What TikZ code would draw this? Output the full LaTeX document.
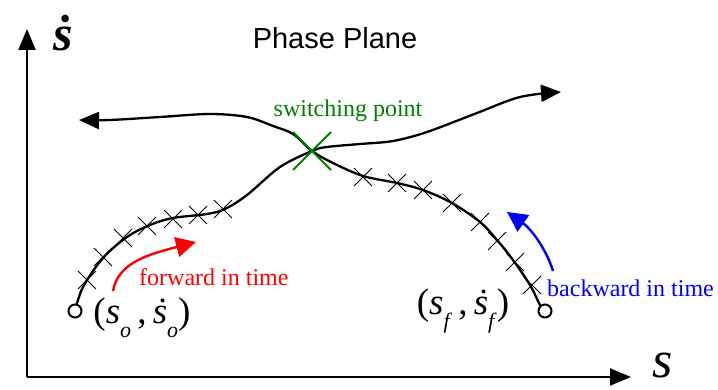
\documentclass[tikz,border=0pt]{standalone}
\usepackage{fontspec}
\setmainfont{Liberation Serif}
\newfontfamily\titlefont{Liberation Sans}
\usetikzlibrary{arrows.meta,shapes.misc}
\definecolor{swgreen}{RGB}{0,128,0}
\tikzset{
  axisline/.style={line width=2pt,-{Triangle[length=21pt,width=17pt]}},
  trajectory/.style={line width=2.3pt,-{Triangle[length=20pt,width=17pt]}},
  xmark/.style={cross out,draw,minimum size=17pt,inner sep=0pt,line width=0.9pt},
  endpoint/.style={circle,draw,fill=white,line width=2pt,minimum size=13pt,inner sep=0pt},
  timearrow/.style={line width=2.4pt,-{Triangle[length=20pt,width=20pt]}},
  lbl/.style={inner sep=0pt,font=\fontsize{24}{24}\selectfont},
  mathlbl/.style={inner sep=0pt,font=\fontsize{37}{37}\selectfont}
}
\newcommand{\lowsub}[1]{\raisebox{-0.38em}{\fontsize{22}{22}\selectfont\textit{#1}}}
\begin{document}
\begin{tikzpicture}[x=1pt,y=-1pt]
\useasboundingbox (0,0) rectangle (718,390);
% axes
\coordinate (origin) at (27,377);
\coordinate (ytip) at (27,29);
\coordinate (xtip) at (631,377);
\draw[axisline] (origin) -- (ytip);
\draw[axisline] (origin) -- (xtip);
\node[inner sep=0pt,font=\fontsize{50}{50}\selectfont\bfseries] (sdotlabel) at (63,33) {\textit{\.s}};
\node[inner sep=0pt,font=\fontsize{52}{52}\selectfont] (slabel) at (663,366) {\textit{s}};
\node[inner sep=0pt,font=\titlefont\fontsize{29}{29}\selectfont] (title) at (335,38) {Phase Plane};
% endpoints
\coordinate (o) at (75,311);
\coordinate (f) at (545,311);
\coordinate (fwdend) at (561,92);
\coordinate (bwdend) at (79,120);
\coordinate (sw) at (312,151);
% forward trajectory
\draw[trajectory] plot[smooth,tension=0.55] coordinates {(o) (83,287) (103,258) (127,237) (150,225) (173,218) (207,214) (225,209) (247,195) (280,167) (sw) (327,147) (360,144) (393,141) (427,132) (477,113) (520,97) (fwdend)};
% backward trajectory
\draw[trajectory] plot[smooth,tension=0.55] coordinates {(f) (540,305) (530,285) (513,260) (497,240) (480,222) (452,203) (423,190) (397,183) (363,176) (333,163) (sw) (293,134) (273,126) (247,117) (210,114) (160,117) (110,120) (bwdend)};
% crosses forward
\foreach \p [count=\i] in {(87,280),(103,257),(123,238),(147,226),(173,219),(198,215),(223,209)}
  \node[xmark] (fx\i) at \p {};
% crosses backward
\foreach \p [count=\i] in {(363,177),(397,183),(423,190),(452,203),(480,222),(497,241),(515,262),(532,285)}
  \node[xmark] (bx\i) at \p {};
% endpoint circles
\node[endpoint] (start) at (o) {};
\node[endpoint] (finish) at (f) {};
% switching point
\node[cross out,draw=swgreen,minimum size=36pt,inner sep=0pt,line width=2pt] (swmark) at (sw) {};
\node[lbl,text=swgreen] (swlabel) at (348,111) {switching point};
% forward in time
\coordinate (r0) at (113,291);
\coordinate (r1) at (196,242);
\draw[timearrow,red] (r0) .. controls (118,262) and (150,254) .. (r1);
\node[lbl,text=red,anchor=west] (fwdlabel) at (139,277) {forward in time};
% backward in time
\coordinate (b0) at (553,271);
\coordinate (b1) at (507,212);
\draw[timearrow,blue] (b0) .. controls (546,248) and (530,228) .. (b1);
\node[lbl,text=blue,anchor=west] (bwdlabel) at (547,288) {backward in time};
% point labels
\node[mathlbl] (olabel) at (142,318) {(\textit{s}\lowsub{o}\,,\,\textit{\.s}\lowsub{o})};
\node[mathlbl] (flabel) at (463,311) {(\textit{s}\lowsub{f}\,,\,\textit{\.s}\lowsub{f})};
\end{tikzpicture}
\end{document}
